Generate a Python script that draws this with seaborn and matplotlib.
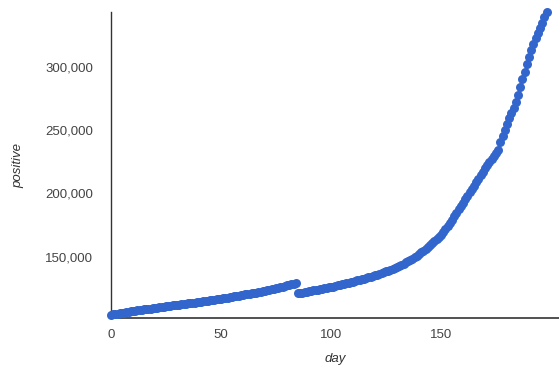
import matplotlib
matplotlib.use("Agg")
import matplotlib.pyplot as plt
import seaborn as sns
import pandas as pd
from matplotlib.ticker import FuncFormatter

days = list(range(0, 199))
positive = [
    104000, 104350, 104620, 104950, 105230, 105560, 105840, 106150, 106430, 106720,
    107000, 107260, 107530, 107790, 108040, 108300, 108560, 108810, 109060, 109300,
    109540, 109790, 110030, 110280, 110520, 110760, 110990, 111220, 111460, 111690,
    111920, 112150, 112380, 112600, 112830, 113060, 113290, 113520, 113750, 113980,
    114210, 114440, 114680, 114920, 115160, 115410, 115660, 115920, 116200, 116490,
    116790, 117100, 117410, 117720, 118030, 118340, 118650, 118950, 119260, 119560,
    119860, 120160, 120460, 120760, 121060, 121360, 121670, 121980, 122290, 122600,
    123000, 123420, 123850, 124270, 124700, 125120, 125550, 125980, 126400, 126830,
    127260, 127690, 128120, 128550, 128980,
    121000, 121330, 121660, 121990, 122320,
    122650, 122980, 123310, 123640, 123980, 124320, 124660, 125000, 125350, 125700,
    126050, 126450, 126850, 127260, 127680, 128100, 128530, 128960, 129400, 129840,
    130290, 130750, 131220, 131700, 132190, 132690, 133200, 133720,
    134250, 134790, 135350, 135920, 136510, 137120, 137750, 138400, 139070, 139760,
    140470, 141200,
    141950, 142750, 143600, 144500, 145450, 146450,
    147450, 148550, 149700, 150900, 152150, 153450, 154800, 156200, 157650,
    159150, 160700, 162300, 163950, 165650,
    167400, 169600, 171800, 174100, 176600, 179200, 181900, 184600, 187300, 190000,
    192700, 195400, 198100, 200800, 203500, 206200, 208900, 211700, 214500,
    217100, 219700, 222200, 224700, 227100, 229500, 231900, 234300,
    241000, 245600, 250300, 255000,
    259200, 263400, 267700, 272000,
    278000, 284000, 290000,
    296000, 302000, 308000,
    313000, 318000, 323000,
    327000, 331000, 335000,
    339000, 343000,
]
y_ticks = [150000, 200000, 250000, 300000]
x_ticks = [0, 50, 100, 150]

df = pd.DataFrame({"day": days, "positive": positive})

sns.set_style("white")
plt.rcParams["font.family"] = ["Liberation Sans", "DejaVu Sans"]

fig = plt.figure(figsize=(5.59, 3.82), dpi=100)
ax = fig.add_axes([111 / 559, 1 - 317.8 / 382, 1 - 111 / 559, (317.8 - 12.5) / 382])

sns.scatterplot(data=df, x="day", y="positive", ax=ax, color="#3366CC",
                s=42, linewidth=0, alpha=1.0, clip_on=False, zorder=3)

ax.set_xlim(0, 203.6)
ax.set_ylim(101740, 342900)
ax.set_xticks(x_ticks)
ax.set_yticks(y_ticks)
ax.yaxis.set_major_formatter(FuncFormatter(lambda v, p: f"{int(v):,}"))

ax.tick_params(axis="x", length=0, pad=8, labelsize=9.5, labelcolor="#444444")
ax.tick_params(axis="y", length=0, pad=13, labelsize=9.5, labelcolor="#444444")

for side in ["top", "right"]:
    ax.spines[side].set_visible(False)
ax.spines["left"].set_color("#333333")
ax.spines["left"].set_linewidth(1.0)
ax.spines["bottom"].set_color("#333333")
ax.spines["bottom"].set_linewidth(1.2)

ax.set_xlabel("day", fontsize=9.5, fontstyle="italic", color="#333333", labelpad=9)
ax.set_ylabel("positive", fontsize=9.5, fontstyle="italic", color="#333333", labelpad=15)

fig.savefig("out.png", dpi=100)
